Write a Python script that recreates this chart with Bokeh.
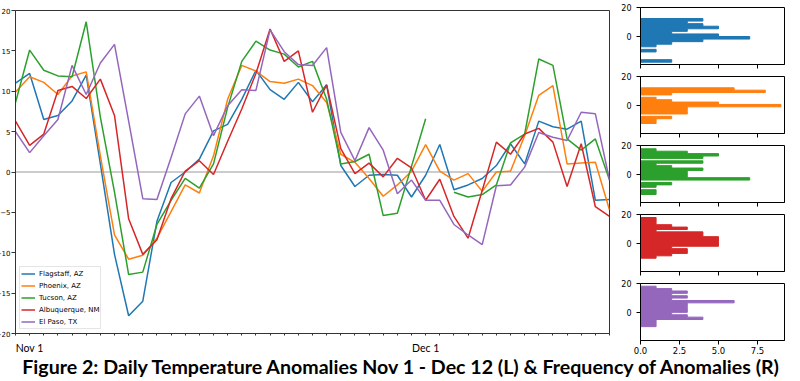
import numpy as np
from bokeh.plotting import figure
from bokeh.models import Range1d, FixedTicker, Span, Label
from bokeh.layouts import row, column
from bokeh.embed import file_html
from bokeh.resources import INLINE

# ---------------- data ----------------
days = list(range(43))  # day index, 0 = Nov 1
nan = float("nan")

flagstaff = [11.0, 12.2, 6.5, 7.0, 8.8, 12.0, 1.0, -10.2, -17.8, -16.0, -6.1, -1.3, 0.0, 1.6, 5.1,
             5.9, 9.0, 12.6, 10.2, 9.0, 11.1, 8.7, 10.8, 0.8, -1.8, -0.4, -0.3, -0.4, -3.1, -0.4,
             3.4, -2.2, -1.6, -0.8, 0.8, 3.5, 1.0, 6.3, 5.6, 5.3, 6.3, -3.5, -3.4]
phoenix = [9.9, 11.8, 11.1, 9.6, 11.9, 12.4, 2.0, -7.8, -10.8, -10.3, -8.2, -4.9, -1.6, -2.6, 2.0,
           9.0, 13.2, 12.5, 11.2, 11.0, 11.5, 10.7, 8.6, 2.2, 1.2, -0.8, -3.0, -1.6, 0.1, 3.4,
           0.1, -1.0, -0.2, -2.4, 0.0, 0.1, 4.5, 9.5, 10.7, 1.0, 1.1, 1.2, -4.7]
tucson = [8.6, 15.1, 12.6, 11.9, 11.8, 18.6, 6.8, -2.5, -12.7, -12.4, -6.5, -3.5, -0.8, -2.0, 1.0,
          8.0, 13.7, 16.2, 15.1, 14.6, 13.0, 13.7, 9.0, 1.0, 1.3, 2.2, -5.4, -5.1, 0.7, 6.6,
          nan, -2.5, -3.1, -2.8, -1.6, 3.6, 4.7, 14.0, 13.2, 4.1, 2.7, 4.1, -1.0]
albuquerque = [6.3, 3.3, 4.7, 10.1, 10.6, 9.1, 11.5, 7.0, -5.8, -10.2, -8.4, -3.3, 0.1, 1.4, -0.3,
               3.8, 7.8, 12.2, 17.7, 13.7, 15.0, 7.4, 10.8, 2.9, -0.2, 1.1, -0.6, 1.7, 0.5, -3.5,
               -0.9, -5.5, -8.2, -2.3, 3.7, 2.2, 4.7, 5.4, 3.7, -1.8, 3.5, -4.3, -5.5]
el_paso = [5.0, 2.4, 4.5, 6.5, 13.2, 9.6, 13.5, 15.8, 6.3, -3.3, -3.4, 1.8, 7.2, 9.4, 4.5,
           8.2, 10.2, 10.1, 17.6, 14.9, 13.3, 13.2, 15.4, 4.9, 1.4, 5.5, 2.7, -2.7, -1.0, -3.5,
           -3.5, -6.5, -7.8, -9.0, -1.7, -1.6, 0.6, 4.9, 4.3, 3.9, 7.4, 7.2, -1.0]

names = ["Flagstaff, AZ", "Phoenix, AZ", "Tucson, AZ", "Albuquerque, NM", "El Paso, TX"]
colors = ["#1f77b4", "#ff7f0e", "#2ca02c", "#d62728", "#9467bd"]
series = [flagstaff, phoenix, tucson, albuquerque, el_paso]

x_tick_days = [1, 29]
x_tick_labels = ["Nov 1", "Dec 1"]
y_ticks = [-20, -15, -10, -5, 0, 5, 10, 15, 20]
y_tick_labels = ["\u221220", "\u221215", "\u221210", "\u22125", "0", "5", "10", "15", "20"]

# histogram bins (top value, bottom value) and counts from top bin to bottom bin
hist_top = [12.3, 12.1, 17.7, 17.9, 18.1]
hist_bottom = [-18.3, -12.9, -14.3, -10.6, -10.2]
hist_counts = [
    [4, 3, 4, 5, 3, 2, 5, 7, 4, 2, 1, 0, 1, 0, 0, 0, 2],
    [6, 8, 2, 0, 1, 2, 5, 9, 3, 3, 3, 0, 2, 1, 1],
    [1, 3, 5, 4, 0, 4, 1, 2, 4, 3, 3, 3, 7, 0, 2, 1, 0, 1, 1],
    [1, 1, 1, 2, 3, 1, 4, 4, 5, 5, 5, 5, 2, 3, 3, 2, 1],
    [1, 2, 3, 2, 3, 2, 6, 3, 3, 3, 3, 2, 3, 4, 1, 1, 1],
]
hist_xticks = [0, 2.5, 5, 7.5]
hist_xtick_labels = ["0.0", "2.5", "5.0", "7.5"]
hist_yticks = [0, 20]

title_text = "Figure 2: Daily Temperature Anomalies Nov 1 - Dec 12 (L) & Frequency of Anomalies (R)"

# ---------------- main chart ----------------
p = figure(width=623, height=356, x_range=Range1d(0, 42), y_range=Range1d(-20, 20),
           output_backend="svg", toolbar_location=None,
           min_border_left=20, min_border_right=6, min_border_top=10, min_border_bottom=20)
p.grid.visible = False
p.outline_line_color = "#333333"
p.background_fill_color = "white"

p.add_layout(Span(location=0, dimension="width", line_color="#999999", line_width=1, level="underlay"))

for name, col, vals in zip(names, colors, series):
    p.line(days, vals, line_color=col, line_width=1.5, legend_label=name)

xa = p.xaxis[0]
xa.ticker = FixedTicker(ticks=x_tick_days, minor_ticks=days)
xa.major_label_overrides = {d: l for d, l in zip(x_tick_days, x_tick_labels)}
xa.major_tick_out = 0
xa.major_tick_in = 0
xa.minor_tick_out = 2
xa.minor_tick_in = 0
xa.major_label_standoff = 6
xa.major_label_text_font = "Lato"
xa.major_label_text_font_size = "10.5px"
xa.major_label_text_color = "black"
xa.axis_line_color = "#333333"
xa.major_tick_line_color = "#333333"
xa.minor_tick_line_color = "#333333"

ya = p.yaxis[0]
ya.ticker = FixedTicker(ticks=y_ticks, minor_ticks=[])
ya.major_label_overrides = {t: l for t, l in zip(y_ticks, y_tick_labels)}
ya.major_tick_out = 4
ya.major_tick_in = 0
ya.major_label_standoff = 1
ya.major_label_text_font = "DejaVu Sans"
ya.major_label_text_font_size = "7px"
ya.major_label_text_color = "black"
ya.axis_line_color = "#333333"
ya.major_tick_line_color = "#333333"

lg = p.legend[0]
lg.location = "bottom_left"
lg.margin = 4
lg.padding = 1
lg.spacing = 1
lg.glyph_height = 11
lg.label_height = 11
lg.glyph_width = 14
lg.label_standoff = 4
lg.label_text_font = "DejaVu Sans"
lg.label_text_font_size = "7px"
lg.label_text_color = "black"
lg.border_line_color = "#cccccc"
lg.border_line_width = 1
lg.background_fill_alpha = 0.9

# ---------------- histograms ----------------
hfigs = []
for i, (col, top, bot, counts) in enumerate(zip(colors, hist_top, hist_bottom, hist_counts)):
    last = i == len(colors) - 1
    h = figure(width=177, height=80 if last else 69,
               x_range=Range1d(0, 9.23), y_range=Range1d(-19.9, 20),
               output_backend="svg", toolbar_location=None,
               min_border_left=25, min_border_right=8, min_border_top=7,
               min_border_bottom=16 if last else 5)
    h.grid.visible = False
    h.outline_line_color = "black"
    # step-filled outline built from the bin edges and counts
    edges = np.linspace(top, bot, len(counts) + 1)
    xs, ys = [0.0], [edges[0]]
    for k, c in enumerate(counts):
        xs += [c, c]
        ys += [edges[k], edges[k + 1]]
    xs.append(0.0)
    ys.append(edges[-1])
    h.patch(xs, ys, fill_color=col, line_color=col, line_width=1)
    hx = h.xaxis[0]
    hx.ticker = FixedTicker(ticks=hist_xticks, minor_ticks=[])
    hx.major_tick_out = 4
    hx.major_tick_in = 0
    hx.axis_line_color = "black"
    if last:
        hx.major_label_overrides = {t: l for t, l in zip(hist_xticks, hist_xtick_labels)}
        hx.major_label_text_font = "DejaVu Sans"
        hx.major_label_text_font_size = "8.5px"
        hx.major_label_text_color = "black"
        hx.major_label_standoff = 2
    else:
        hx.major_label_text_color = None
        hx.major_label_text_font_size = "0px"
        hx.major_label_standoff = 0
    hy = h.yaxis[0]
    hy.ticker = FixedTicker(ticks=hist_yticks, minor_ticks=[])
    hy.major_tick_out = 4
    hy.major_tick_in = 0
    hy.major_label_standoff = 5
    hy.major_label_text_font = "DejaVu Sans"
    hy.major_label_text_font_size = "8px"
    hy.major_label_text_color = "black"
    hy.axis_line_color = "black"
    hfigs.append(h)

# ---------------- title ----------------
t = figure(width=800, height=33, x_range=Range1d(0, 800), y_range=Range1d(0, 33),
           output_backend="svg", toolbar_location=None, margin=(-12, 0, 0, 0),
           min_border=0, min_border_left=0, min_border_right=0, min_border_top=0, min_border_bottom=0)
t.axis.visible = False
t.grid.visible = False
t.outline_line_color = None
t.background_fill_alpha = 0
t.border_fill_alpha = 0
t.add_layout(Label(x=410, y=11, x_units="screen", y_units="screen", text=title_text,
                   text_align="center", text_baseline="alphabetic",
                   text_font="Lato", text_font_style="bold", text_font_size="19.6px",
                   text_color="black"))

root = column(row(p, column(*hfigs)), t, margin=(0, -8, -8, -8))
open("out.html", "w").write(file_html(root, INLINE))
